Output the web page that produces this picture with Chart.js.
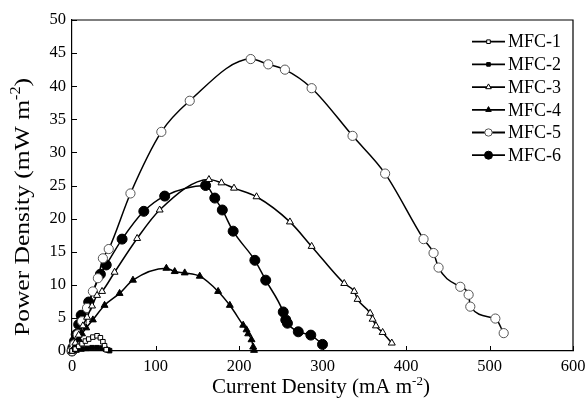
<!DOCTYPE html>
<html>
<head>
<meta charset="utf-8">
<script src="https://cdn.jsdelivr.net/npm/chart.js@4.4.0/dist/chart.umd.min.js"></script>
<style>
  html, body { margin: 0; padding: 0; background: #fff; }
</style>
</head>
<body>
<canvas id="chart" width="585" height="405"></canvas>
<script>
"use strict";

// series names
const seriesNames = ['MFC-1', 'MFC-2', 'MFC-3', 'MFC-4', 'MFC-5', 'MFC-6'];

// current density (mA m-2) and power density (mW m-2)
const mfc1X = [0, 4, 8, 12, 16, 20, 25, 30, 34, 37, 39, 41];
const mfc1Y = [0, 0.3, 0.7, 1.1, 1.5, 1.8, 2.1, 2.3, 2.0, 1.4, 0.8, 0.2];

const mfc2X = [0, 6, 12, 18, 24, 30, 36, 40, 43, 45];
const mfc2Y = [0, 0.15, 0.3, 0.4, 0.5, 0.5, 0.45, 0.3, 0.15, 0.05];

const mfc3X = [0, 4, 8, 13, 18, 24, 30, 36, 51, 78, 105, 164, 179, 194, 221, 261, 287, 326, 338, 342, 357, 360, 364, 372, 383];
const mfc3Y = [0, 1.2, 2.4, 3.8, 5.1, 6.8, 8.4, 9.0, 11.9, 17.0, 21.3, 25.9, 25.4, 24.6, 23.3, 19.5, 15.8, 10.2, 9.0, 7.8, 5.7, 4.8, 3.8, 2.8, 1.2];

const mfc4X = [0, 4, 8, 12, 17, 25, 39, 57, 73, 113, 123, 135, 153, 175, 189, 205, 209, 211, 215, 217, 218];
const mfc4Y = [0, 0.8, 1.8, 2.6, 3.5, 4.7, 6.9, 8.7, 10.7, 12.5, 12.0, 11.8, 11.3, 9.0, 6.9, 3.9, 3.2, 2.6, 1.7, 0.6, 0.1];

const mfc5X = [0, 3, 7, 12, 18, 25, 31, 37, 44, 70, 107, 141, 214, 235, 255, 287, 336, 375, 421, 433, 439, 465, 475, 477, 507, 517];
const mfc5Y = [0, 1, 2.5, 4.5, 6.5, 9, 11, 14.0, 15.4, 23.8, 33.1, 37.8, 44.1, 43.3, 42.5, 39.7, 32.5, 26.8, 16.9, 14.8, 12.6, 9.7, 8.5, 6.7, 4.9, 2.7];

const mfc6X = [0, 1, 3, 5, 8, 11, 20, 34, 41, 60, 86, 111, 160, 171, 180, 193, 219, 232, 253, 256, 258, 271, 286, 300];
const mfc6Y = [0, 0.5, 1.5, 2.5, 4, 5.4, 7.4, 11.6, 13, 16.9, 21.1, 23.4, 25.0, 23.1, 21.3, 18.1, 13.7, 10.7, 5.9, 4.7, 4.2, 2.9, 2.4, 1.0];

// axis ticks
const xTicks = [0, 100, 200, 300, 400, 500, 600];
const yTicks = [0, 5, 10, 15, 20, 25, 30, 35, 40, 45, 50];

const serif = "'Liberation Serif', 'Times New Roman', serif";

/**
 * Zips x and y arrays into point objects for Chart.js
 */
function toPoints(xs, ys) {
  return xs.map((x, i) => ({ x: x, y: ys[i] }));
}

// marker looks per series
const markers = [
  { style: 'rect', radius: 3.2, fill: '#fff', stroke: '#000' },
  { style: 'rect', radius: 3.2, fill: '#000', stroke: '#000' },
  { style: 'triangle', radius: 4, fill: '#fff', stroke: '#000' },
  { style: 'triangle', radius: 4, fill: '#000', stroke: '#000' },
  { style: 'circle', radius: 4.6, fill: '#fff', stroke: '#555' },
  { style: 'circle', radius: 5, fill: '#000', stroke: '#000' }
];

const allData = [
  toPoints(mfc1X, mfc1Y),
  toPoints(mfc2X, mfc2Y),
  toPoints(mfc3X, mfc3Y),
  toPoints(mfc4X, mfc4Y),
  toPoints(mfc5X, mfc5Y),
  toPoints(mfc6X, mfc6Y)
];

const datasets = seriesNames.map((name, i) => ({
  label: name,
  data: allData[i],
  borderColor: '#000',
  borderWidth: 1.5,
  pointStyle: markers[i].style,
  pointRadius: markers[i].radius,
  pointBackgroundColor: markers[i].fill,
  pointBorderColor: markers[i].stroke,
  pointBorderWidth: 1,
  cubicInterpolationMode: 'monotone',
  clip: false
}));

// inward ticks + top/right frame
const framePlugin = {
  id: 'frame',
  afterDraw(chart) {
    const ctx = chart.ctx;
    const area = chart.chartArea;
    const xs = chart.scales.x;
    const ys = chart.scales.y;
    ctx.save();
    ctx.strokeStyle = '#000';
    ctx.lineWidth = 1.2;
    ctx.beginPath();
    ctx.moveTo(area.left, area.top);
    ctx.lineTo(area.right, area.top);
    ctx.lineTo(area.right, area.bottom);
    ctx.stroke();
    ctx.lineWidth = 1;
    ctx.beginPath();
    xTicks.forEach(v => {
      const px = Math.round(xs.getPixelForValue(v)) + 0.5;
      ctx.moveTo(px, area.bottom);
      ctx.lineTo(px, area.bottom - 5);
    });
    yTicks.forEach(v => {
      const py = Math.round(ys.getPixelForValue(v)) + 0.5;
      ctx.moveTo(area.left, py);
      ctx.lineTo(area.left + 5, py);
    });
    ctx.stroke();
    ctx.restore();
  }
};

/**
 * Draws "main" text followed by a raised small "sup" and a closing tail
 */
function drawSupText(ctx, x, y, size, main, sup, tail) {
  ctx.font = size + 'px ' + serif;
  const wMain = ctx.measureText(main).width;
  const wTail = ctx.measureText(tail).width;
  ctx.font = Math.round(size * 0.62) + 'px ' + serif;
  const wSup = ctx.measureText(sup).width;
  const total = wMain + wSup + wTail;
  let cx = x - total / 2;
  ctx.textAlign = 'left';
  ctx.textBaseline = 'alphabetic';
  ctx.font = size + 'px ' + serif;
  ctx.fillText(main, cx, y);
  cx += wMain;
  ctx.font = Math.round(size * 0.62) + 'px ' + serif;
  ctx.fillText(sup, cx, y - size * 0.4);
  cx += wSup;
  ctx.font = size + 'px ' + serif;
  ctx.fillText(tail, cx, y);
}

// axis titles and legend
const labelPlugin = {
  id: 'labels',
  afterDraw(chart) {
    const ctx = chart.ctx;
    ctx.save();
    ctx.fillStyle = '#000';
    drawSupText(ctx, 321, 393, 21, 'Current Density (mA m', '-2', ')');
    ctx.save();
    ctx.translate(29, 207);
    ctx.rotate(-Math.PI / 2);
    ctx.scale(1.16, 1);
    drawSupText(ctx, 0, 0, 22, 'Power Density (mW m', '-2', ')');
    ctx.restore();

    // legend
    chart.data.datasets.forEach((ds, i) => {
      const y = 41.7 + i * 22.7;
      ctx.strokeStyle = '#000';
      ctx.lineWidth = 1.8;
      ctx.beginPath();
      ctx.moveTo(472, y);
      ctx.lineTo(505, y);
      ctx.stroke();
      ctx.fillStyle = markers[i].fill;
      ctx.strokeStyle = markers[i].stroke;
      ctx.lineWidth = 1;
      Chart.helpers.drawPoint(ctx, {
        pointStyle: markers[i].style,
        radius: markers[i].radius * 0.8,
        borderWidth: 1,
        rotation: 0
      }, 488.5, y);
      ctx.fillStyle = '#000';
      ctx.font = '18px ' + serif;
      ctx.textAlign = 'left';
      ctx.textBaseline = 'middle';
      ctx.fillText(ds.label, 508, y + 1);
    });
    ctx.restore();
  }
};

const chart = new Chart(document.getElementById('chart'), {
  type: 'line',
  data: { datasets: datasets },
  options: {
    responsive: false,
    animation: false,
    layout: { padding: { top: 20, right: 12, left: 0, bottom: 0 } },
    plugins: {
      legend: { display: false },
      tooltip: { enabled: false }
    },
    scales: {
      x: {
        type: 'linear',
        min: 0,
        max: 600,
        afterBuildTicks: s => { s.ticks = xTicks.map(v => ({ value: v })); },
        afterFit: s => { s.height = 54; s.paddingLeft = 0; s.paddingRight = 0; },
        grid: { display: false, drawTicks: false },
        border: { display: true, color: '#000', width: 1.2 },
        ticks: { color: '#000', padding: 6, font: { family: serif, size: 16.5 } }
      },
      y: {
        type: 'linear',
        min: 0,
        max: 50,
        afterBuildTicks: s => { s.ticks = yTicks.map(v => ({ value: v })); },
        afterFit: s => { s.width = 72; s.paddingTop = 0; s.paddingBottom = 0; },
        grid: { display: false, drawTicks: false },
        border: { display: true, color: '#000', width: 1.2 },
        ticks: { color: '#000', padding: 6, font: { family: serif, size: 16.5 } }
      }
    }
  },
  plugins: [framePlugin, labelPlugin]
});
</script>
</body>
</html>
